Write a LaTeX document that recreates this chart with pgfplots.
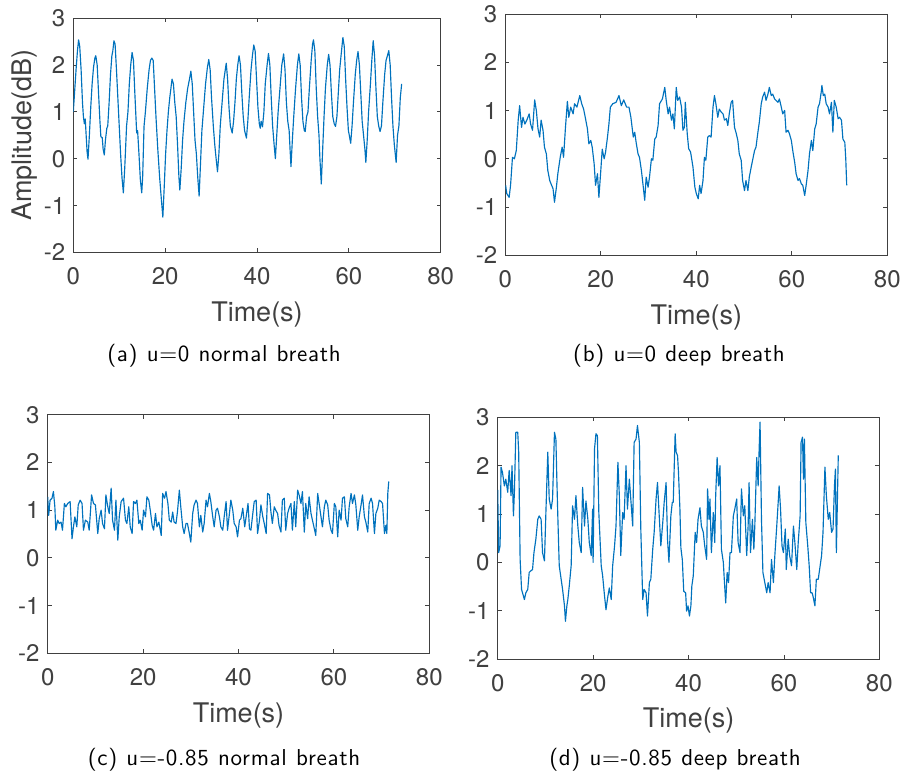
\documentclass[border=0pt]{standalone}
\usepackage{pgfplots}
\pgfplotsset{compat=1.18}
\usepackage{fontspec}
\newfontfamily\heros{TeX Gyre Heros}
\newfontfamily\capfont{lmsans10-regular}[Extension=.otf, LetterSpace=3, WordSpace=1.1]
\definecolor{mblue}{HTML}{0072BD}
\definecolor{axgray}{HTML}{404040}
\pgfplotsset{
  panel/.style={
    scale only axis, anchor=south west,
    xmin=0, xmax=80, ymin=-2, ymax=3,
    xtick={0,20,...,80}, ytick={-2,-1,...,3},
    tick align=inside, major tick length=4pt,
    axis line style={axgray, line width=0.8pt},
    every tick/.style={axgray, line width=0.8pt},
    tick label style={font=\heros\fontsize{24}{24}\selectfont, text=axgray},
    /pgf/number format/assume math mode=true,
    xticklabel style={inner sep=0pt, yshift=-15pt},
    yticklabel style={inner sep=0pt, xshift=-8pt},
    label style={font=\heros\fontsize{27}{27}\selectfont, text=axgray},
    xlabel style={at={(axis description cs:0.5,0)}, anchor=north, inner sep=0pt, yshift=-49pt},
    xlabel={Time(s)},
  },
  sig/.style={mblue, line width=1.15pt, no marks, line join=round},
}
\begin{document}
\begin{tikzpicture}
\path[use as bounding box] (0,0) rectangle (904pt,774pt);

% (a)
\begin{axis}[panel, at={(73.3pt,521.7pt)}, width=367.4pt, height=234pt,
  ylabel={Amplitude(dB)},
  ylabel style={at={(axis description cs:-0.168,0.5)}, anchor=north, inner sep=0pt}]
\addplot[sig] coordinates {
(0,1.0)(0.3,1.45)(0.6,1.9)(0.9,2.3)(1.15,2.54)(1.4,2.4)(1.7,1.9)(2.0,1.2)(2.2,0.9)(2.4,0.75)(2.6,0.85)(2.8,0.5)(3.0,0.15)(3.2,-0.01)(3.5,0.5)(3.8,1.1)(4.1,1.6)(4.4,1.95)(4.7,2.15)(4.9,2.2)(5.2,2.0)(5.5,1.4)(5.8,0.8)(6.0,0.47)(6.3,0.45)(6.5,0.2)(6.75,0.08)(7.0,0.4)(7.3,0.65)(7.5,0.7)(7.8,1.2)(8.1,1.8)(8.4,2.2)(8.6,2.3)(8.85,2.52)(9.1,2.45)(9.4,1.9)(9.7,1.3)(10.0,0.7)(10.3,0.1)(10.6,-0.4)(10.9,-0.73)(11.2,-0.2)(11.6,0.7)(11.9,1.0)(12.2,1.6)(12.5,2.0)(12.8,2.27)(13.1,2.1)(13.4,1.4)(13.8,0.55)(14.0,0.6)(14.3,0.1)(14.6,-0.45)(14.9,-0.73)(15.1,-0.4)(15.4,0.69)(15.7,1.0)(16.1,1.5)(16.5,1.9)(16.8,2.1)(17.1,2.15)(17.4,2.1)(17.7,1.5)(18.0,0.9)(18.4,0.2)(18.8,-0.4)(19.2,-0.9)(19.5,-1.25)(19.8,-0.6)(20.1,0.1)(20.4,0.6)(20.7,1.0)(21.0,1.3)(21.5,1.7)(21.8,1.6)(22.1,1.2)(22.4,0.9)(22.7,0.3)(23.0,-0.4)(23.2,-0.67)(23.5,-0.2)(23.8,0.4)(24.1,0.8)(24.5,1.2)(24.9,1.5)(25.3,1.7)(25.6,1.87)(25.9,1.6)(26.2,1.0)(26.5,0.4)(26.8,0.1)(27.1,-0.4)(27.4,-0.8)(27.7,-0.1)(28.0,0.6)(28.4,1.1)(28.8,1.6)(29.2,1.95)(29.5,2.12)(29.8,1.9)(30.1,1.3)(30.5,0.68)(30.8,0.3)(31.1,0.0)(31.4,-0.28)(31.7,0.1)(32.0,0.7)(32.4,1.2)(32.8,1.7)(33.3,2.04)(33.6,1.7)(33.9,1.1)(34.2,0.7)(34.6,0.55)(34.9,0.8)(35.2,1.2)(35.5,1.7)(35.8,2.0)(36.1,2.2)(36.4,2.0)(36.7,1.4)(37.0,0.9)(37.3,0.6)(37.7,0.44)(38.0,0.8)(38.3,1.3)(38.7,1.9)(39.0,2.2)(39.3,2.43)(39.6,2.3)(39.9,1.7)(40.2,1.1)(40.5,0.75)(40.7,0.65)(40.9,0.8)(41.2,0.68)(41.5,1.0)(41.8,1.6)(42.2,2.0)(42.5,2.25)(42.8,2.0)(43.1,1.3)(43.4,0.7)(43.7,0.33)(44.0,0.0)(44.3,0.5)(44.6,1.0)(45.0,1.5)(45.4,2.0)(45.8,2.24)(46.1,1.9)(46.4,1.2)(46.7,0.8)(47.0,0.6)(47.2,0.2)(47.4,-0.17)(47.7,0.4)(48.0,0.9)(48.4,1.5)(48.8,2.0)(49.1,2.24)(49.4,2.0)(49.7,1.3)(50.0,0.8)(50.3,0.6)(50.5,0.58)(50.8,0.9)(51.1,1.0)(51.4,1.5)(51.8,2.1)(52.1,2.45)(52.3,2.54)(52.6,2.3)(52.9,1.5)(53.2,0.9)(53.5,0.5)(53.7,0.0)(54.0,-0.54)(54.3,0.2)(54.6,0.9)(54.9,1.5)(55.3,2.0)(55.6,2.23)(55.9,2.0)(56.2,1.4)(56.5,0.9)(56.8,0.75)(57.1,0.69)(57.4,0.9)(57.7,1.4)(58.0,1.9)(58.4,2.3)(58.7,2.59)(59.0,2.4)(59.3,1.7)(59.6,1.1)(59.9,0.6)(60.1,0.5)(60.4,0.33)(60.7,0.7)(61.0,1.2)(61.4,1.8)(61.7,2.1)(62.0,2.29)(62.3,2.0)(62.6,1.4)(62.9,0.8)(63.2,0.5)(63.5,0.2)(63.7,-0.08)(64.0,0.4)(64.3,1.0)(64.7,1.6)(65.0,2.1)(65.3,2.52)(65.6,2.2)(65.9,1.5)(66.2,0.9)(66.5,0.7)(66.8,0.58)(67.1,0.7)(67.4,1.2)(67.8,1.8)(68.1,2.1)(68.4,2.2)(68.7,2.31)(69.0,2.0)(69.3,1.3)(69.6,0.7)(69.9,0.3)(70.3,-0.08)(70.6,0.5)(70.9,0.7)(71.2,1.3)(71.5,1.6)
};
\end{axis}

% (b)
\begin{axis}[panel, at={(505.3pt,518.7pt)}, width=382pt, height=241.3pt]
\addplot[sig] coordinates {
(0.07,-0.55)(0.3,-0.72)(0.8,-0.8)(1.1,-0.55)(1.5,0.03)(1.9,0.0)(2.3,0.17)(2.7,0.8)(3.0,1.1)(3.4,0.65)(3.7,0.86)(4.1,0.72)(4.5,0.8)(5.0,0.93)(5.3,0.72)(5.7,0.59)(6.15,1.22)(6.5,1.0)(6.85,0.62)(7.2,0.45)(7.5,0.8)(7.9,0.59)(8.2,0.24)(8.6,0.1)(8.9,-0.24)(9.3,-0.45)(9.7,-0.55)(10.0,-0.62)(10.3,-0.9)(10.7,-0.59)(11.0,-0.31)(11.5,0.03)(11.9,0.24)(12.2,0.03)(12.6,0.65)(13.0,1.19)(13.3,0.86)(13.7,1.07)(14.2,0.93)(14.5,1.14)(15.0,1.07)(15.6,1.31)(16.0,1.14)(16.4,1.03)(16.8,0.83)(17.2,0.62)(17.5,0.31)(17.9,0.38)(18.2,0.24)(18.6,-0.1)(18.9,-0.55)(19.3,-0.31)(19.6,-0.8)(20.0,-0.24)(20.3,0.2)(20.7,0.0)(21.0,0.14)(21.4,0.45)(21.7,0.72)(22.0,1.07)(22.5,1.14)(23.2,1.17)(23.8,1.31)(24.3,1.1)(24.8,1.22)(25.4,1.07)(25.9,1.07)(26.3,0.86)(26.8,0.45)(27.1,0.55)(27.4,0.34)(27.8,0.1)(28.1,0.03)(28.5,-0.24)(28.9,-0.59)(29.2,-0.86)(29.5,-0.38)(29.9,-0.59)(30.2,-0.38)(30.6,0.0)(30.9,-0.03)(31.3,0.41)(31.6,0.45)(32.0,0.69)(32.3,1.14)(32.9,1.24)(33.4,1.48)(33.7,1.21)(34.1,0.93)(34.4,1.07)(34.8,0.8)(35.1,0.93)(35.4,0.62)(35.8,1.48)(36.1,1.21)(36.5,1.28)(36.9,1.07)(37.2,0.59)(37.5,0.65)(37.7,1.17)(38.1,0.52)(38.4,0.21)(38.8,0.14)(39.3,-0.17)(39.7,-0.59)(40.0,-0.72)(40.4,-0.83)(40.7,-0.55)(41.0,-0.72)(41.4,-0.45)(41.7,0.03)(42.0,-0.03)(42.4,0.45)(42.7,0.48)(43.1,0.45)(43.5,1.07)(43.8,1.31)(44.1,1.14)(44.5,0.86)(44.8,1.03)(45.2,0.97)(45.6,0.93)(45.9,0.8)(46.3,0.83)(46.6,0.69)(46.9,0.93)(47.3,1.17)(47.6,1.21)(48.0,0.65)(48.3,0.55)(48.7,0.38)(49.0,0.1)(49.4,-0.03)(49.7,-0.45)(50.1,-0.66)(50.4,-0.45)(50.8,-0.66)(51.1,-0.38)(51.5,-0.17)(52.2,0.17)(52.5,0.24)(52.9,0.55)(53.2,0.76)(53.6,1.14)(53.9,1.28)(54.3,1.38)(54.6,1.21)(55.0,1.34)(55.3,1.48)(55.7,1.31)(56.0,1.34)(56.4,1.24)(56.7,1.21)(57.1,1.17)(57.4,1.24)(57.8,1.07)(58.1,0.93)(58.5,1.0)(58.8,0.55)(59.2,0.59)(59.5,0.52)(59.9,0.38)(60.2,0.17)(60.6,-0.07)(60.9,-0.31)(61.3,-0.45)(61.6,-0.41)(62.0,-0.52)(62.3,-0.55)(62.7,-0.76)(63.0,-0.55)(63.4,-0.24)(63.7,0.1)(64.1,0.38)(64.4,0.17)(64.8,0.62)(65.1,0.72)(65.5,1.07)(65.8,1.14)(66.2,1.41)(66.3,1.52)(66.6,1.31)(66.9,1.34)(67.2,1.14)(67.6,1.07)(67.9,0.93)(68.3,1.17)(68.6,0.55)(68.9,1.21)(69.3,1.07)(69.7,0.83)(70.0,0.86)(70.4,0.8)(70.7,0.41)(71.1,0.34)(71.3,0.0)(71.5,-0.55)
};
\end{axis}

% (c)
\begin{axis}[panel, at={(47.7pt,120.7pt)}, width=381.6pt, height=238.6pt]
\addplot[sig] coordinates {
(0.0,1.28)(0.2,0.89)(0.5,1.21)(0.9,1.25)(1.2,1.39)(1.5,1.07)(1.7,0.58)(2.1,0.79)(2.4,0.72)(2.8,0.75)(3.1,0.58)(3.5,1.14)(3.8,1.07)(4.2,1.14)(4.7,1.18)(5.1,0.4)(5.4,0.65)(5.7,0.86)(6.1,0.65)(6.4,1.11)(6.8,1.21)(7.2,1.14)(7.5,0.58)(7.9,0.79)(8.4,0.75)(8.7,0.58)(9.2,1.32)(9.6,1.14)(10.0,1.11)(10.5,0.51)(10.8,0.82)(11.2,1.0)(11.5,0.72)(11.9,0.61)(12.2,1.32)(12.6,1.07)(12.9,0.93)(13.3,1.46)(13.6,0.79)(14.0,0.58)(14.3,1.21)(14.7,0.37)(15.0,0.86)(15.4,1.18)(15.9,1.25)(16.3,0.79)(16.6,0.72)(17.0,1.07)(17.3,0.65)(17.7,0.51)(18.0,1.18)(18.4,1.14)(18.7,1.21)(19.1,0.72)(19.4,0.79)(19.8,0.58)(20.1,1.0)(20.5,0.86)(20.8,1.28)(21.2,1.21)(21.5,1.0)(21.9,0.68)(22.2,0.58)(22.6,0.93)(22.9,0.65)(23.3,0.75)(23.8,0.47)(24.1,1.35)(24.5,1.25)(24.8,1.39)(25.2,1.14)(25.5,0.79)(25.9,0.75)(26.2,0.96)(26.5,0.75)(26.9,0.72)(27.2,0.96)(27.6,1.42)(27.9,1.07)(28.3,0.65)(28.6,0.51)(29.0,0.72)(29.3,0.72)(29.7,0.51)(30.0,0.33)(30.4,0.93)(30.7,1.11)(31.1,1.21)(31.4,1.14)(31.8,0.65)(32.1,0.89)(32.5,0.54)(32.8,0.72)(33.2,1.21)(33.5,1.07)(33.9,1.35)(34.2,1.18)(34.6,0.86)(34.9,0.65)(35.3,1.0)(35.6,1.04)(36.0,0.86)(36.3,0.65)(36.7,0.58)(37.0,0.86)(37.4,1.18)(37.7,0.58)(38.1,0.93)(38.4,1.21)(38.8,1.0)(39.1,0.72)(39.5,0.65)(39.8,0.44)(40.2,0.79)(40.5,0.82)(40.9,1.04)(41.3,0.65)(41.6,0.86)(42.0,1.14)(42.3,0.61)(42.6,0.58)(43.0,0.93)(43.3,1.18)(43.7,1.21)(44.0,0.51)(44.4,0.79)(44.7,1.11)(45.1,0.86)(45.4,0.72)(45.8,0.51)(46.1,1.35)(46.5,1.32)(46.8,0.96)(47.1,0.72)(47.5,1.07)(47.8,1.0)(48.2,0.93)(48.5,0.68)(48.9,0.54)(49.2,1.21)(49.6,1.25)(49.9,0.58)(50.3,0.93)(50.6,1.04)(51.0,1.14)(51.3,0.58)(51.7,1.18)(52.0,0.65)(52.4,1.42)(52.7,1.32)(53.1,1.14)(53.4,1.39)(53.8,0.54)(54.1,1.14)(54.5,0.82)(54.8,1.28)(55.2,0.93)(55.5,0.79)(55.9,0.61)(56.2,0.47)(56.6,1.35)(56.9,1.14)(57.3,0.86)(57.6,0.65)(58.0,1.07)(58.3,1.21)(58.7,1.11)(59.0,0.79)(59.4,0.58)(59.7,0.51)(60.1,1.14)(60.4,1.07)(60.8,0.44)(61.1,1.0)(61.5,0.79)(61.8,1.25)(62.2,1.28)(62.5,0.82)(62.9,0.65)(63.2,1.07)(63.6,1.35)(63.9,1.14)(64.3,1.32)(64.6,1.11)(65.0,0.58)(65.3,0.86)(65.7,1.11)(66.0,1.32)(66.4,0.86)(66.7,0.75)(67.1,0.54)(67.4,1.14)(67.8,1.25)(68.1,1.14)(68.5,0.51)(68.8,0.93)(69.2,1.04)(69.5,1.21)(69.9,1.18)(70.2,1.14)(70.6,0.51)(70.9,0.68)(71.1,0.51)(71.3,1.35)(71.5,1.6)
};
\end{axis}

% (d)
\begin{axis}[panel, at={(497.7pt,115pt)}, width=381.6pt, height=241.7pt]
\addplot[sig] coordinates {
(0.0,1.5)(0.2,0.2)(0.5,0.34)(0.7,1.97)(1.0,1.86)(1.4,1.58)(1.7,1.72)(2.1,1.45)(2.4,1.9)(2.8,1.38)(3.0,2.0)(3.3,0.96)(3.5,1.45)(3.8,2.69)(4.2,2.69)(4.4,2.28)(4.7,0.06)(5.0,-0.56)(5.2,-0.63)(5.6,-0.77)(5.9,-0.63)(6.3,-0.56)(6.6,-0.21)(6.9,-0.18)(7.3,-0.15)(7.6,0.2)(8.0,0.48)(8.4,0.89)(8.7,0.96)(9.1,0.89)(9.4,0.2)(9.8,0.03)(10.1,1.02)(10.5,2.28)(10.8,1.31)(11.2,1.1)(11.5,1.31)(11.9,2.69)(12.2,2.55)(12.4,1.72)(12.6,0.96)(12.9,-0.07)(13.3,-0.35)(13.6,-0.56)(14.0,-0.9)(14.2,-1.22)(14.5,-0.9)(14.7,-0.77)(15.0,-0.49)(15.4,-0.07)(15.7,1.17)(16.1,0.89)(16.4,1.38)(16.8,0.75)(17.1,0.41)(17.5,0.2)(17.8,1.55)(18.2,0.75)(18.5,1.27)(18.9,0.89)(19.2,0.41)(19.6,0.14)(19.9,1.1)(20.0,0.0)(20.3,2.35)(20.6,2.66)(20.9,2.62)(21.2,1.03)(21.7,-0.07)(22.0,-0.28)(22.4,-0.7)(22.7,-0.98)(23.1,-0.7)(23.4,-0.53)(23.8,-0.77)(24.1,-0.07)(24.5,0.34)(24.8,0.75)(25.2,2.07)(25.5,1.38)(25.8,0.14)(26.2,1.03)(26.5,0.89)(26.9,2.0)(27.2,1.1)(27.6,1.72)(27.9,1.31)(28.3,0.75)(28.6,2.48)(29.0,2.55)(29.3,2.83)(29.7,2.48)(30.0,0.69)(30.4,-0.77)(30.7,-0.56)(31.1,-0.63)(31.4,-1.11)(31.8,-0.42)(32.1,-0.35)(32.5,0.27)(32.8,0.62)(33.2,1.31)(33.5,1.65)(33.9,0.89)(34.2,0.34)(34.6,0.82)(34.9,1.24)(35.3,1.65)(35.6,0.48)(35.9,0.0)(36.3,0.96)(36.6,1.24)(36.8,1.24)(37.2,2.66)(37.4,2.28)(37.7,2.21)(37.9,1.86)(38.2,1.1)(38.4,0.3)(38.7,0.06)(39.0,-0.6)(39.4,-0.63)(39.6,-1.01)(39.9,-0.9)(40.2,-1.11)(40.5,-0.9)(40.7,-0.49)(41.0,-0.28)(41.4,0.62)(41.7,0.41)(42.0,0.89)(42.4,1.13)(42.7,0.75)(43.1,0.62)(43.4,0.34)(43.8,0.06)(44.0,1.52)(44.3,0.89)(44.5,1.31)(44.8,0.2)(45.2,1.03)(45.5,0.41)(45.7,1.38)(46.0,2.17)(46.3,1.58)(46.6,2.0)(46.9,0.27)(47.3,0.0)(47.5,-0.35)(47.8,-0.84)(48.1,-0.21)(48.4,-0.42)(48.7,0.2)(49.0,0.2)(49.4,0.96)(49.7,1.1)(50.1,1.31)(50.4,0.41)(50.8,0.2)(51.1,1.52)(51.5,0.96)(51.8,1.17)(52.2,0.14)(52.5,0.75)(52.7,1.65)(53.0,0.2)(53.4,0.89)(53.7,0.27)(53.9,0.75)(54.3,2.17)(54.6,1.58)(54.8,2.31)(55.0,2.9)(55.3,0.89)(55.6,-0.21)(56.0,-0.42)(56.4,-0.63)(56.7,-0.42)(57.1,-0.63)(57.4,0.06)(57.8,-0.42)(58.1,0.14)(58.5,0.75)(58.8,1.24)(59.0,1.58)(59.3,1.1)(59.6,0.34)(59.9,0.2)(60.3,0.69)(60.5,-0.15)(60.9,0.48)(61.2,0.14)(61.6,-0.07)(62.0,0.75)(62.3,0.41)(62.7,-0.15)(63.0,0.41)(63.4,0.96)(63.6,2.48)(63.9,2.59)(64.1,1.72)(64.3,2.55)(64.6,0.82)(65.0,0.34)(65.3,-0.07)(65.6,-0.63)(65.9,-0.63)(66.1,-0.7)(66.5,-0.9)(66.8,-0.35)(67.2,-0.35)(67.6,-0.07)(67.9,0.14)(68.2,0.62)(68.6,1.97)(68.9,1.38)(69.3,0.89)(69.6,1.03)(70.0,0.62)(70.3,0.69)(70.6,1.58)(70.8,1.93)(71.0,0.2)(71.2,1.2)(71.4,2.21)
};
\end{axis}

\begin{scope}[every node/.style={font=\capfont\fontsize{23}{23}\selectfont, anchor=base, inner sep=0pt}]
\node at (224pt,412pt) {(a) u=0 normal breath};
\node at (679pt,412pt) {(b) u=0 deep breath};
\node at (224pt,9pt) {(c) u=-0.85 normal breath};
\node at (675pt,9pt) {(d) u=-0.85 deep breath};
\end{scope}
\end{tikzpicture}
\end{document}
